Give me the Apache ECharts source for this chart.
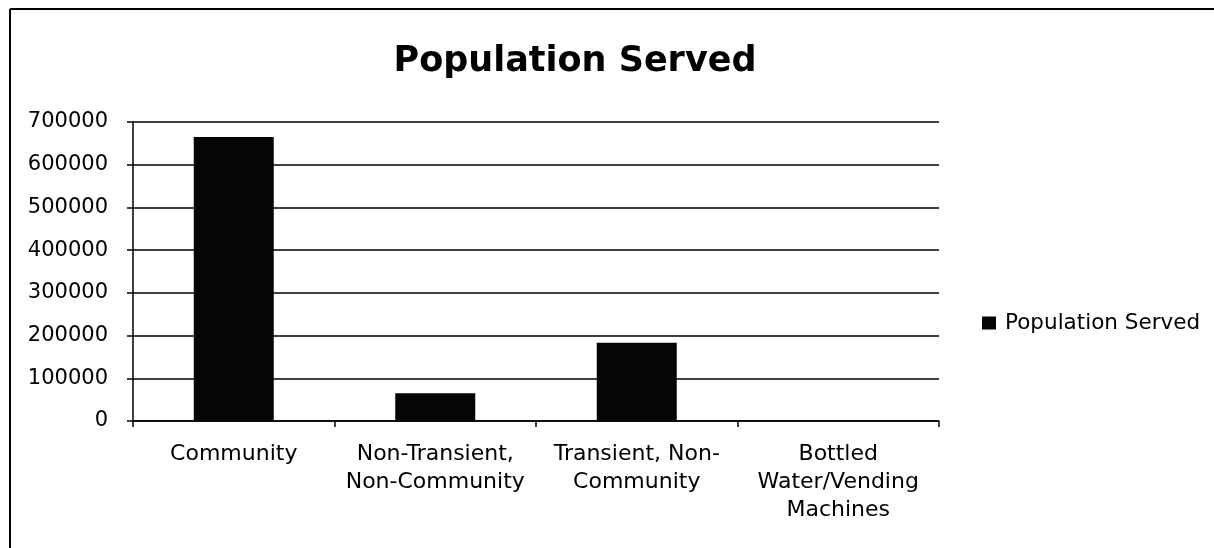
<!DOCTYPE html>
<html>
<head>
<meta charset="utf-8">
<script src="https://cdn.jsdelivr.net/npm/echarts@6/dist/echarts.min.js"></script>
<style>html,body{margin:0;padding:0;background:#fff;}#c{width:1214px;height:548px;}</style>
</head>
<body>
<div id="c"></div>
<script>
var categories = ["Community", "Non-Transient,\nNon-Community", "Transient, Non-\nCommunity", "Bottled\nWater/Vending\nMachines"];
var populationServed = [665000, 65000, 183000, 0];
var seriesName = "Population Served";
var titleText = "Population Served";

var chart = echarts.init(document.getElementById('c'));
chart.setOption({
  backgroundColor: '#fff',
  animation: false,
  title: {
    text: titleText,
    left: 570, top: 39, textAlign: 'center',
    textStyle: {fontFamily: 'DejaVu Sans', fontWeight: 'bold', fontSize: 35, color: '#000'}
  },
  legend: {
    data: [seriesName],
    left: 982, top: 312, padding: 0,
    itemWidth: 14, itemHeight: 13,
    icon: 'rect',
    textStyle: {fontFamily: 'DejaVu Sans', fontSize: 21.5, color: '#000', padding: [0,0,0,4]}
  },
  grid: {left: 133, right: 275, top: 122, bottom: 127, containLabel: false},
  xAxis: {
    type: 'category',
    data: categories,
    axisLine: {lineStyle: {color: '#000', width: 1.5}},
    axisTick: {show: true, length: 6, lineStyle: {color: '#000', width: 1.5}},
    axisLabel: {fontFamily: 'DejaVu Sans', fontSize: 22, color: '#000', lineHeight: 28, margin: 19, interval: 0}
  },
  yAxis: {
    type: 'value',
    min: 0, max: 700000, interval: 100000,
    axisLine: {show: true, lineStyle: {color: '#000', width: 1.5}},
    axisTick: {show: true, length: 6, lineStyle: {color: '#000', width: 1.5}},
    splitLine: {show: true, lineStyle: {color: '#000', width: 1.5}},
    axisLabel: {fontFamily: 'DejaVu Sans', fontSize: 21, color: '#000', margin: 25,
      formatter: function (v) { return String(v); }}
  },
  series: [{
    name: seriesName,
    type: 'bar',
    data: populationServed,
    barWidth: 80,
    itemStyle: {color: '#050505'}
  }],
  graphic: [
    {type: 'line', shape: {x1: 10, y1: 9, x2: 1214, y2: 9}, style: {stroke: '#000', lineWidth: 2}},
    {type: 'line', shape: {x1: 10, y1: 9, x2: 10, y2: 548}, style: {stroke: '#000', lineWidth: 2}}
  ]
});
</script>
</body>
</html>
